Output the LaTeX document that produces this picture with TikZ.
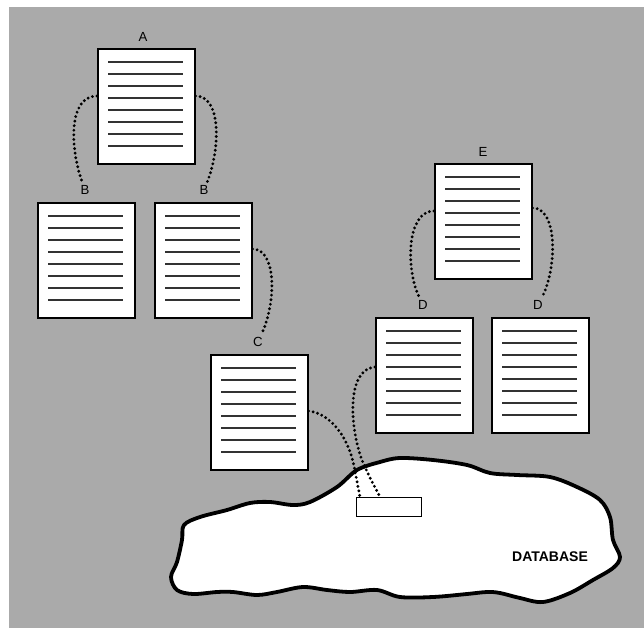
\documentclass[tikz,border=0pt]{standalone}
\usepackage{fontspec}
\setmainfont{Liberation Sans}
\usetikzlibrary{calc}
\definecolor{bggray}{RGB}{170,170,170}
\definecolor{linegray}{RGB}{50,50,50}
\tikzset{
  doc/.style={draw=black, line width=0.8pt, fill=white, minimum width=48.5pt,
    minimum height=57.5pt, inner sep=0pt, anchor=north west},
  docline/.style={draw=linegray, line width=0.7pt},
  lbl/.style={font=\fontsize{6.6}{7}\selectfont, inner sep=1.6pt},
  dotline/.style={line width=1.6pt, line cap=round, dash pattern=on 0pt off 2.3pt},
  blob/.style={draw=black, line width=1.9pt, fill=white, line join=round},
  slot/.style={draw=black, line width=0.7pt, fill=white, minimum width=32.5pt,
    minimum height=9.5pt, inner sep=0pt, anchor=north west}
}
\begin{document}
\begin{tikzpicture}[x=0.5pt,y=-0.5pt]
\useasboundingbox (0,0) rectangle (644,628);
\fill[white] (0,0) rectangle (644,628);
\fill[bggray] (9,7) rectangle (644,628);
% database blob
\draw[blob] plot[smooth cycle, tension=0.55] coordinates {
 (171,577) (177,562) (182,540) (184,525) (200,517) (227,510) (250,503) (270,502)
 (293,505) (310,502) (337,487) (357,470) (380,462) (400,458) (433,460) (467,465)
 (490,473) (517,475) (550,477) (577,487) (600,500) (610,517) (613,540) (620,557)
 (613,568) (593,580) (570,593) (543,602) (520,598) (500,593) (487,592) (467,594)
 (433,597) (400,597) (377,590) (350,592) (327,590) (303,587) (277,592) (257,595)
 (233,592) (217,592) (193,594) (177,590)};
\node[font=\bfseries\fontsize{7}{8}\selectfont, inner sep=0pt] (db) at (550,557) {DATABASE};
% documents
\node[doc] (A)  at (97,48)  {};
\node[doc] (B1) at (37,202) {};
\node[doc] (B2) at (154,202) {};
\node[doc] (C)  at (210,354) {};
\node[doc] (E)  at (434,163) {};
\node[doc] (D1) at (375,317) {};
\node[doc] (D2) at (491,317) {};
\foreach \n in {A,B1,B2,C,E,D1,D2}
  \foreach \i in {0,...,7}
    \draw[docline] ($(\n.north west)+(11,{14+12*\i})$) -- ++(75,0);
% slot in database
\node[slot] (slot) at (356,497) {};
% labels
\node[lbl] (la)  at (143,37)  {A};
\node[lbl] (lb1) at (85,190)  {B};
\node[lbl] (lb2) at (204,190) {B};
\node[lbl] (lc)  at (258,342) {C};
\node[lbl] (le)  at (483,152) {E};
\node[lbl] (ld1) at (423,305) {D};
\node[lbl] (ld2) at (538,305) {D};
% dotted connectors
\coordinate (a1) at ($(A.north west)+(0,48)$);
\coordinate (a2) at ($(A.north east)+(0,48)$);
\coordinate (b2) at ($(B2.north east)+(0,47)$);
\coordinate (e1) at ($(E.north west)+(0,48)$);
\coordinate (e2) at ($(E.north east)+(0,45)$);
\coordinate (c1) at ($(C.north east)+(0,57)$);
\coordinate (d1) at ($(D1.north west)+(0,50)$);
\coordinate (s1) at ($(slot.north west)+(4,0)$);
\coordinate (s2) at ($(slot.north west)+(24,0)$);
\draw[dotline] (a1) .. controls (68,96) and (70,148) .. (lb1);
\draw[dotline] (a2) .. controls (222,96) and (220,150) .. (lb2);
\draw[dotline] (b2) .. controls (276,249) and (277,300) .. (lc);
\draw[dotline] (e1) .. controls (406,211) and (406,270) .. (ld1);
\draw[dotline] (e2) .. controls (558,208) and (557,268) .. (ld2);
\draw[dotline] (c1) .. controls (327,413) and (347,432) .. (354,466) -- (s1);
\draw[dotline] (d1) .. controls (347,369) and (349,425) .. (362,460)
  .. controls (368,475) and (374,485) .. (s2);
\end{tikzpicture}
\end{document}
